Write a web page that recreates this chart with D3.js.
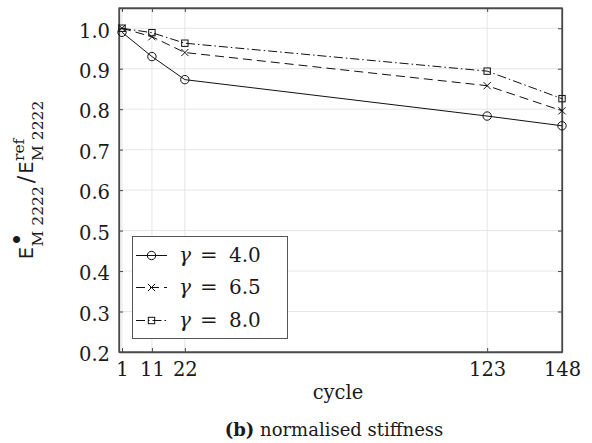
<!DOCTYPE html>
<html>
<head>
<meta charset="utf-8">
<script src="https://cdn.jsdelivr.net/npm/d3@7"></script>
<style>
  html, body { margin: 0; padding: 0; background: #fff; }
  svg { display: block; }
  svg text { font-family: "DejaVu Serif", serif; fill: #1a1a1a; }
</style>
</head>
<body>
<script>
// Normalised stiffness over load cycles for three values of gamma
const cycles = [1, 11, 22, 123, 148];
const gamma40 = [0.990, 0.930, 0.873, 0.783, 0.759];
const gamma65 = [1.000, 0.979, 0.940, 0.858, 0.796];
const gamma80 = [1.000, 0.989, 0.963, 0.894, 0.826];
const seriesNames = ["4.0", "6.5", "8.0"];
const yTicks = [0.2, 0.3, 0.4, 0.5, 0.6, 0.7, 0.8, 0.9, 1.0];
const xTicks = [1, 11, 22, 123, 148];

const W = 592, H = 443;
const pL = 119, pR = 562, pT = 8, pB = 352;

const svg = d3.select("body").append("svg").attr("width", W).attr("height", H);

const x = d3.scaleLinear().domain([0, 148]).range([pL, pR]);
const y = d3.scaleLinear().domain([0.2, 1.05]).range([pB, pT]);

// grid
const grid = svg.append("g").attr("stroke", "#e6e6e6").attr("stroke-width", 1);
grid.selectAll(".gx").data(xTicks).join("line")
  .attr("x1", d => x(d)).attr("x2", d => x(d)).attr("y1", pT).attr("y2", pB);
grid.selectAll(".gy").data(yTicks).join("line")
  .attr("x1", pL).attr("x2", pR).attr("y1", d => y(d)).attr("y2", d => y(d));

// axes (ticks pointing inwards on all four sides)
const axisColor = "#4a4a4a";
const fmt = d3.format(".1f");
const gB = svg.append("g").attr("transform", `translate(0,${pB})`)
  .call(d3.axisBottom(x).tickValues(xTicks).tickSizeInner(-4).tickSizeOuter(0).tickPadding(10));
const gT = svg.append("g").attr("transform", `translate(0,${pT})`)
  .call(d3.axisTop(x).tickValues(xTicks).tickSizeInner(-4).tickSizeOuter(0).tickFormat(""));
const gL = svg.append("g").attr("transform", `translate(${pL},0)`)
  .call(d3.axisLeft(y).tickValues(yTicks).tickSizeInner(-4).tickSizeOuter(0).tickPadding(9).tickFormat(fmt));
const gR = svg.append("g").attr("transform", `translate(${pR},0)`)
  .call(d3.axisRight(y).tickValues(yTicks).tickSizeInner(-4).tickSizeOuter(0).tickFormat(""));
[gB, gT, gL, gR].forEach(g => {
  g.select(".domain").attr("stroke", axisColor).attr("stroke-width", 1.3);
  g.selectAll(".tick line").attr("stroke", axisColor);
  g.selectAll(".tick text").attr("font-size", 19.5).attr("fill", "#1a1a1a");
});
gL.selectAll(".tick text").attr("dy", "0.45em");
// close the frame
svg.append("rect").attr("x", pL).attr("y", pT).attr("width", pR - pL).attr("height", pB - pT)
  .attr("fill", "none").attr("stroke", axisColor).attr("stroke-width", 1.3);

// data series
const series = [
  { name: seriesNames[0], values: gamma40, dash: null, marker: "circle" },
  { name: seriesNames[1], values: gamma65, dash: "9,5", marker: "cross" },
  { name: seriesNames[2], values: gamma80, dash: "9,3,1.5,3", marker: "square" }
];

const line = d3.line().x(d => x(d[0])).y(d => y(d[1]));

function drawMarker(g, type, cx, cy) {
  if (type === "circle") {
    g.append("circle").attr("cx", cx).attr("cy", cy).attr("r", 4.2)
      .attr("fill", "none").attr("stroke", "#111").attr("stroke-width", 1);
  } else if (type === "cross") {
    const s = 3.6;
    g.append("path").attr("d", `M${cx - s},${cy - s}L${cx + s},${cy + s}M${cx - s},${cy + s}L${cx + s},${cy - s}`)
      .attr("stroke", "#111").attr("stroke-width", 1).attr("fill", "none");
  } else {
    const s = 3.2;
    g.append("rect").attr("x", cx - s).attr("y", cy - s).attr("width", 2 * s).attr("height", 2 * s)
      .attr("fill", "none").attr("stroke", "#111").attr("stroke-width", 1);
  }
}

const plot = svg.append("g");
series.forEach(s => {
  const pts = cycles.map((c, i) => [c, s.values[i]]);
  plot.append("path").attr("d", line(pts)).attr("fill", "none").attr("stroke", "#111")
    .attr("stroke-width", 1).attr("stroke-dasharray", s.dash);
  pts.forEach(p => drawMarker(plot, s.marker, x(p[0]), y(p[1])));
});

// legend
const lg = svg.append("g");
lg.append("rect").attr("x", 132.5).attr("y", 236.5).attr("width", 155).attr("height", 102)
  .attr("fill", "#fff").attr("stroke", "#555").attr("stroke-width", 1);
const rowY = [255.5, 287.5, 320.5];
series.forEach((s, i) => {
  lg.append("line").attr("x1", 136).attr("x2", 167).attr("y1", rowY[i]).attr("y2", rowY[i])
    .attr("stroke", "#111").attr("stroke-width", 1).attr("stroke-dasharray", s.dash);
  drawMarker(lg, s.marker, 151.5, rowY[i]);
  const by = rowY[i] + 6;
  lg.append("text").attr("x", 179).attr("y", by).attr("font-size", 20)
    .attr("font-style", "italic").text("γ");
  lg.append("text").attr("x", 200).attr("y", by).attr("font-size", 21).text("=");
  lg.append("text").attr("x", 229).attr("y", by).attr("font-size", 20).text(s.name);
});

// x-axis label and caption
svg.append("text").attr("x", 338).attr("y", 399).attr("text-anchor", "middle")
  .attr("font-size", 19.5).text("cycle");
const cap = svg.append("text").attr("x", 334).attr("y", 436).attr("text-anchor", "middle").attr("font-size", 18);
cap.append("tspan").attr("font-weight", "bold").text("(b)");
cap.append("tspan").text(" normalised stiffness");

// y-axis label: E•_{M 2222} / E^{ref}_{M 2222}
const yl = svg.append("g").attr("transform", "translate(33,0) rotate(-90)");
const inner = yl.append("g");
let cursor = 0;
function piece(txt, size, dy, sans) {
  const t = inner.append("text").attr("x", cursor).attr("y", dy).attr("font-size", size).text(txt);
  if (sans) t.style("font-family", "'DejaVu Sans', sans-serif");
  return t;
}
const len = t => t.node().getComputedTextLength();
const e1 = piece("E", 19.5, 0, true);
cursor += len(e1) + 0.5;
const sup1 = piece("•", 24, -7);
const sub1 = piece("M 2222", 15.5, 9.5);
cursor += Math.max(len(sup1), len(sub1)) + 3;
const sl = piece("/", 22, 0);
cursor += len(sl) + 2;
const e2 = piece("E", 19.5, 0, true);
cursor += len(e2) + 0.5;
const sup2 = piece("ref", 15.5, -9);
const sub2 = piece("M 2222", 15.5, 9.5);
cursor += Math.max(len(sup2), len(sub2));
inner.attr("transform", `translate(${-180 - cursor / 2},0)`);
</script>
</body>
</html>
